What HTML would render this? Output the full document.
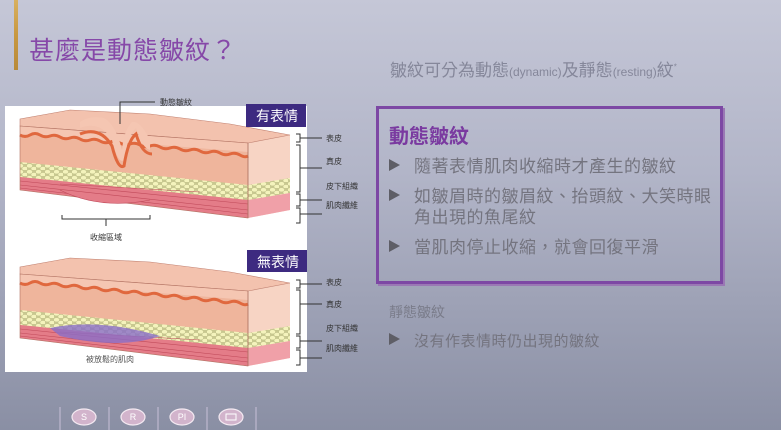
<!DOCTYPE html>
<html><head><meta charset="utf-8"><style>
html,body{margin:0;padding:0}
body{width:781px;height:430px;overflow:hidden;position:relative;background:linear-gradient(#c5c7d7 0%,#b2b5c8 40%,#8a8fa4 100%);font-family:"Liberation Sans","Noto Sans CJK TC",sans-serif}
.a{position:absolute;white-space:nowrap}
.ar{display:inline-block;width:0;height:0;border-top:6px solid transparent;border-bottom:6px solid transparent;border-left:11px solid #5e5e66;margin-right:14px;vertical-align:1px}
</style></head><body>
<div class="a" style="left:14px;top:0;width:4px;height:70px;background:linear-gradient(#d8b060,#c89840,#b88a3a)"></div>
<div class="a" style="left:29px;top:31px;font-size:25px;color:#8648a8;letter-spacing:1px">甚麼是動態皺紋？</div>
<div class="a" style="left:390px;top:56px;font-size:17px;color:#85879a">皺紋可分為動態<span style="font-size:12px">(dynamic)</span>及靜態<span style="font-size:12px">(resting)</span>紋<sup style="font-size:8px">*</sup></div>
<div class="a" style="left:376px;top:106px;width:341px;height:172px;border:3px solid #7d48a4;box-shadow:2px 2px 0 #9a78b4"></div>
<div class="a" style="left:389px;top:120px;font-size:20px;font-weight:bold;color:#7a3aa0">動態皺紋</div>
<div class="a" style="left:389px;top:154px;font-size:17px;color:#74747f;line-height:26px;letter-spacing:.5px">
<div><span class="ar"></span>隨著表情肌肉收縮時才產生的皺紋</div>
<div style="margin-top:4px"><span class="ar"></span>如皺眉時的皺眉紋、抬頭紋、大笑時眼</div>
<div style="margin-top:-5px;padding-left:25px">角出現的魚尾紋</div>
<div style="margin-top:4px"><span class="ar"></span>當肌肉停止收縮，就會回復平滑</div>
</div>
<div class="a" style="left:389px;top:302px;font-size:14px;color:#7a7c8a">靜態皺紋</div>
<div class="a" style="left:389px;top:330px;font-size:15px;color:#74747f;letter-spacing:.5px"><span class="ar" style="border-left-color:#5e5e66"></span>沒有作表情時仍出現的皺紋</div>
<div class="a" style="left:5px;top:106px;width:302px;height:266px;background:#fff"></div>
<svg class="a" style="left:0;top:0" width="781" height="430">
<defs>
<pattern id="fat" width="9" height="6" patternUnits="userSpaceOnUse">
<rect width="9" height="6" fill="#c8c890"/>
<ellipse cx="2.5" cy="1.8" rx="3" ry="2.1" fill="#f4f3bc" stroke="#b0b078" stroke-width=".3"/>
<ellipse cx="7" cy="4.6" rx="3" ry="2.1" fill="#f4f3bc" stroke="#b0b078" stroke-width=".3"/>
</pattern>
<g id="blk">
<polygon points="20,274 248,291 248,366 20,338" fill="#efb59c"/>
<polygon points="248,291 290,283 290,358 248,366" fill="#f7d4c4"/>
<polygon points="20,274 20,267 70,258 150,262 230,272 290,283 248,291" fill="#f3c2ae" stroke="#c08070" stroke-width=".6"/>
<polygon points="20,274 248,291 248,300 20,282" fill="#f5c6b2"/>
<path d="M20,283 q5,3 10,0 t10,0 t10,1 t10,1 t10,1 t10,1 t10,1 t10,1 t10,1 t10,1 t10,1 t10,1 t10,1 t10,1 t10,1 t10,1 t10,1 t10,1 t10,1 t10,1 t10,1 t10,1 t8,1" fill="none" stroke="#e0683e" stroke-width="3"/>
<polygon points="20,310 248,333 248,348 20,325" fill="url(#fat)"/>
<polygon points="248,333 290,326 290,341 248,348" fill="url(#fat)"/>
<polygon points="20,325 248,348 248,366 20,338" fill="#e47c88"/>
<polygon points="248,348 290,341 290,358 248,366" fill="#f0a0a8"/>
<path d="M20,329 L248,352 M20,333 L248,358 M20,336 L248,362 M60,332 L200,340" stroke="#c04a5a" stroke-width=".6" fill="none"/>
<line x1="248" y1="291" x2="248" y2="366" stroke="#a07060" stroke-width=".6"/>
<polygon points="20,274 248,291 248,366 20,338" fill="none" stroke="#b07060" stroke-width=".6"/>
</g>
</defs>
<use href="#blk"/>
<path d="M50,328 Q100,318 160,336 Q120,350 60,336 Z" fill="#8a6ec8" opacity=".8"/>
<use href="#blk" transform="translate(0,-148)"/>
<path d="M80,128 Q100,120 112,140 Q118,165 124,160 Q128,135 136,128 Q142,148 150,150 L150,140 Q140,120 132,122 Q124,130 122,150 Q116,125 104,118 Q90,115 80,122 Z" fill="#f5c6b2"/>
<path d="M80,134 Q100,126 112,146 Q118,170 124,166 Q128,140 136,134 Q142,154 152,154" fill="none" stroke="#e0683e" stroke-width="3"/>
<path d="M60,190 Q100,210 150,200" fill="#e47c88" stroke="#c04a5a" stroke-width=".6"/>
<rect x="246" y="104" width="60" height="23" fill="#3d2a80"/><rect x="247" y="250" width="60" height="22" fill="#3d2a80"/>
<g font-size="14" fill="#fff" font-family="Liberation Sans,Noto Sans CJK TC,sans-serif"><text x="256" y="121">有表情</text><text x="257" y="267">無表情</text></g>
<g stroke="#333" stroke-width="1" fill="none">
<path d="M120,124 V102 H155"/>
<path d="M62,215 V219 H150 V215 M106,219 V226"/>
<path d="M296,134 h4 v8 h-4 M300,138 h22"/>
<path d="M296,145 h4 v47 h-4 M300,168 h22"/>
<path d="M296,194 h4 v12 h-4 M300,200 h22"/>
<path d="M296,208 h4 v15 h-4 M300,214 h22"/>
<path d="M296,280 h4 v8 h-4 M300,284 h22"/>
<path d="M296,290 h4 v44 h-4 M300,304 h22"/>
<path d="M296,336 h4 v12 h-4 M300,341 h22"/>
<path d="M296,350 h4 v15 h-4 M300,358 h22"/>
</g>
<g font-size="8" fill="#333" font-family="Liberation Sans,Noto Sans CJK TC,sans-serif">
<text x="160" y="105">動態皺紋</text><text x="90" y="240">收縮區域</text><text x="86" y="362" fill="#555">被放鬆的肌肉</text>
<text x="326" y="141">表皮</text><text x="326" y="164">真皮</text><text x="326" y="189">皮下組織</text><text x="326" y="208">肌肉纖維</text>
<text x="326" y="285">表皮</text><text x="326" y="307">真皮</text><text x="326" y="331">皮下組織</text><text x="326" y="351">肌肉纖維</text>
</g>
<g stroke="#c8c0d8" stroke-width="1"><line x1="60" y1="407" x2="60" y2="430"/><line x1="109" y1="407" x2="109" y2="430"/><line x1="158" y1="407" x2="158" y2="430"/><line x1="207" y1="407" x2="207" y2="430"/><line x1="256" y1="407" x2="256" y2="430"/></g>
<g fill="#d2b4cc" stroke="#f4eaf2" stroke-width="1.2"><ellipse cx="84" cy="417" rx="12" ry="8"/><ellipse cx="133" cy="417" rx="12" ry="8"/><ellipse cx="182" cy="417" rx="12" ry="8"/><ellipse cx="231" cy="417" rx="12" ry="8"/></g>
<g fill="#fff" font-size="9" text-anchor="middle" font-family="Liberation Sans,sans-serif"><text x="84" y="420">S</text><text x="133" y="420">R</text><text x="182" y="420">PI</text></g>
<rect x="226" y="414" width="10" height="6" fill="none" stroke="#fff" stroke-width="1"/>
</svg>
</body></html>
